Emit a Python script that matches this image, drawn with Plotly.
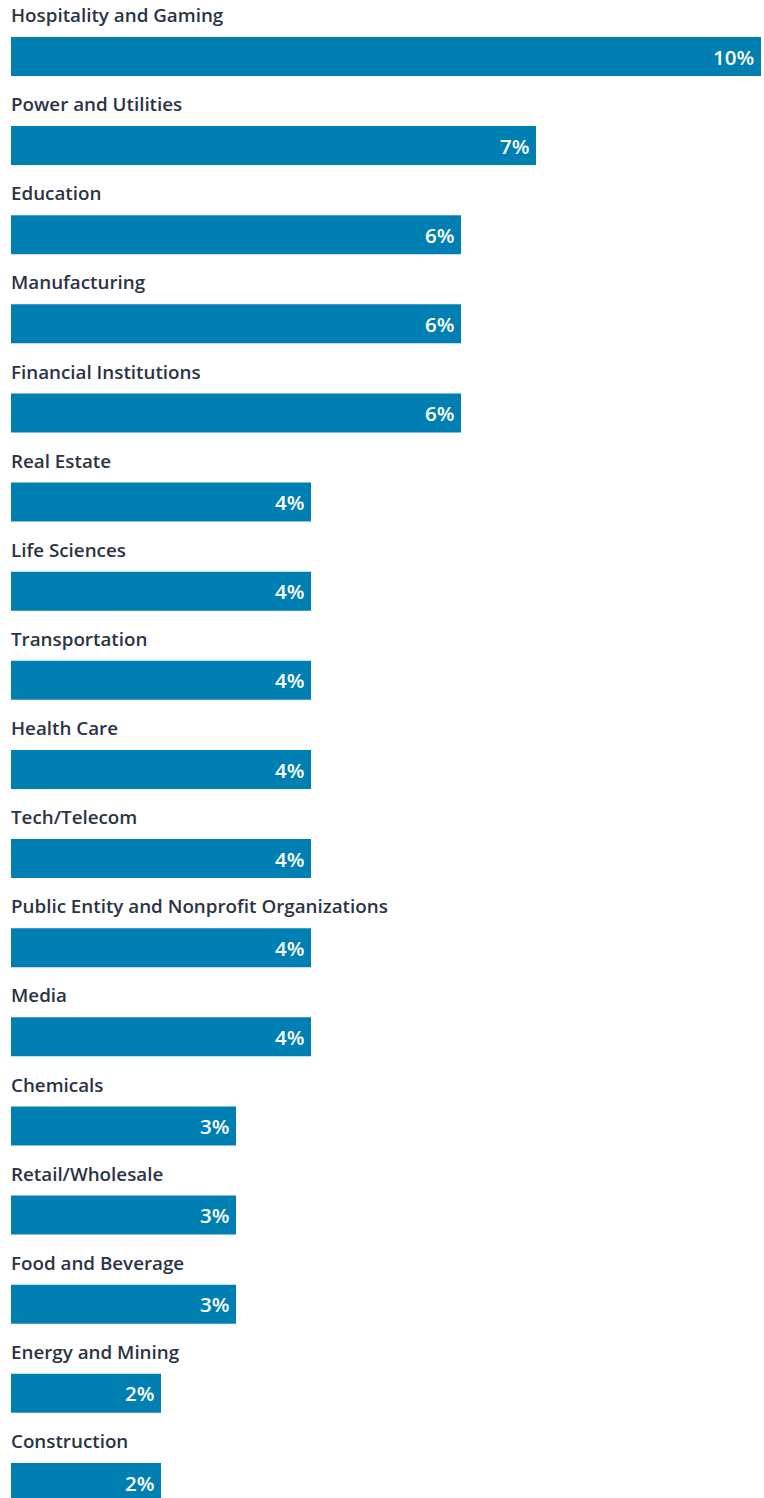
import plotly.graph_objects as go

categories = [
    "Hospitality and Gaming", "Power and Utilities", "Education", "Manufacturing",
    "Financial Institutions", "Real Estate", "Life Sciences", "Transportation",
    "Health Care", "Tech/Telecom", "Public Entity and Nonprofit Organizations",
    "Media", "Chemicals", "Retail/Wholesale", "Food and Beverage",
    "Energy and Mining", "Construction",
]
values = [10, 7, 6, 6, 6, 4, 4, 4, 4, 4, 4, 4, 3, 3, 3, 2, 2]
value_labels = [f"{v}%" for v in values]

BAR_COLOR = "#0080B2"
LABEL_COLOR = "#2B3445"
W, H = 764, 1498
step = 89.125
bar_px = 39
first_center = 56.5

idx = list(range(len(categories)))
bw = bar_px / step

fig = go.Figure(go.Bar(
    x=values, y=idx, orientation="h", width=bw,
    marker=dict(color=BAR_COLOR, line=dict(width=0)),
    hoverinfo="skip",
))

label_off = 41.5 / step
for i, c in enumerate(categories):
    fig.add_annotation(
        x=0, xref="paper", y=i - label_off, yref="y", text=c,
        showarrow=False, xanchor="left", yanchor="middle", xshift=-2,
        font=dict(family="Open Sans", size=18.8, color=LABEL_COLOR, weight=600),
    )
    fig.add_annotation(
        x=values[i], xref="x", y=i, yref="y", text=value_labels[i],
        showarrow=False, xanchor="right", yanchor="middle", xshift=-5,
        font=dict(family="Open Sans", size=20.5, color="white", weight=600),
    )

fig.update_layout(
    width=W, height=H, margin=dict(l=11, r=3, t=0, b=0),
    paper_bgcolor="white", plot_bgcolor="white", showlegend=False,
    xaxis=dict(range=[0, 10], visible=False, fixedrange=True),
    yaxis=dict(range=[(H - first_center) / step, -first_center / step],
               visible=False, fixedrange=True),
)
fig.write_html("out.html")
